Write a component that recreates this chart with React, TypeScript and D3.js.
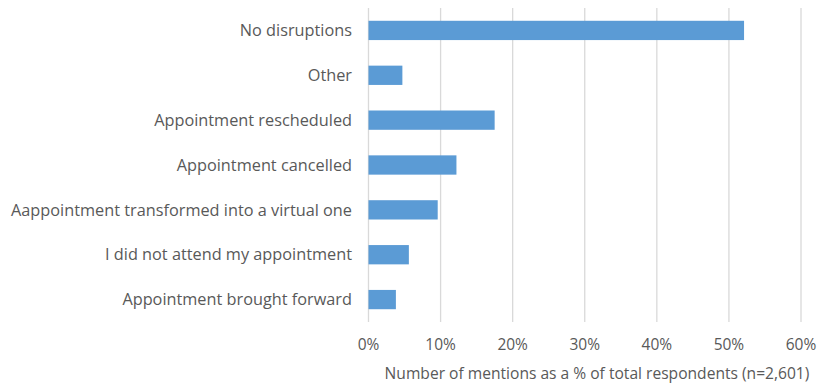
import React from "react";
import * as d3 from "d3";

const categories = [
  "No disruptions",
  "Other",
  "Appointment rescheduled",
  "Appointment cancelled",
  "Aappointment transformed into a virtual one",
  "I did not attend my appointment",
  "Appointment brought forward",
];
const values = [52.1, 4.7, 17.5, 12.2, 9.6, 5.6, 3.8];
const ticks = [0, 10, 20, 30, 40, 50, 60];
const axisTitle = "Number of mentions as a % of total respondents (n=2,601)";

export default function App() {
  const W = 822, H = 383;
  const x = d3.scaleLinear().domain([0, 60]).range([368.5, 801]);
  const y = d3.scaleBand<string>().domain(categories).range([8, 322]).paddingInner(0.57).paddingOuter(0.285);
  const font = "'Open Sans', sans-serif";
  const gray = "#595959";
  return (
    <svg width={W} height={H} style={{ position: "absolute", left: 0, top: 0 }} fontFamily={font}>
      <rect width={W} height={H} fill="#fff" />
      {ticks.map((t) => (
        <line key={t} x1={x(t)} x2={x(t)} y1={8} y2={322} stroke="#d9d9d9" strokeWidth={1.3} />
      ))}
      {categories.map((c, i) => (
        <rect key={c} x={x(0)} y={y(c)!} width={x(values[i]) - x(0)} height={y.bandwidth()} fill="#5b9bd5" />
      ))}
      {categories.map((c) => (
        <text key={c} x={352} y={y(c)! + y.bandwidth() / 2} dy="0.35em" textAnchor="end" fontSize={16.3} fill={gray}>
          {c}
        </text>
      ))}
      {ticks.map((t) => (
        <text key={t} x={x(t)} y={345} dy="0.35em" textAnchor="middle" fontSize={15.5} fill={gray}>
          {t}%
        </text>
      ))}
      <text x={597} y={374} dy="0.35em" textAnchor="middle" fontSize={15.6} fill={gray}>
        {axisTitle}
      </text>
    </svg>
  );
}
